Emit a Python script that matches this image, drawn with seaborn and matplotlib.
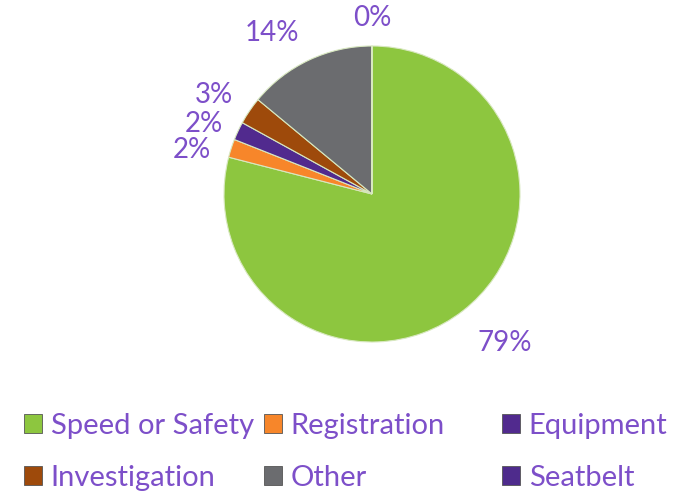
import matplotlib
matplotlib.use('Agg')
import matplotlib.pyplot as plt
import matplotlib.patches as mpatches
import seaborn as sns
import pandas as pd
import numpy as np

# values
categories = ["Speed or Safety", "Registration", "Equipment", "Investigation", "Other", "Seatbelt"]
shares = [79, 2, 2, 3, 14, 0.001]
pct_labels = ["79%", "2%", "2%", "3%", "14%", "0%"]
colors = ["#8DC63F", "#F7862A", "#512A8E", "#9E4A0B", "#6B6C6F", "#4E2B8C"]

df = pd.DataFrame({"category": categories, "share": shares, "label": pct_labels})

sns.set_theme(style="white")
plt.rcParams['font.family'] = ['Lato', 'DejaVu Sans']

text_color = "#7D4FC9"

fig = plt.figure(figsize=(6.8, 4.97), dpi=100)
ax = fig.add_axes([224 / 680, 155 / 497, 296 / 680, 296 / 497])

wedges, _ = ax.pie(df["share"], colors=colors, startangle=90, counterclock=False,
                   radius=1.0, wedgeprops=dict(edgecolor="#d8e8c0", linewidth=0.8))
ax.set_aspect("equal")

# outside-end percentage labels, nudged like the Excel layout
dists = [1.35, 1.25, 1.23, 1.26, 1.28, 1.19]
nudge = [4, 4.2, 2.6, 2, 6.6, 0]
for w, lab, d, n in zip(wedges, df["label"], dists, nudge):
    ang = np.deg2rad((w.theta1 + w.theta2) / 2 + n)
    ax.text(d * np.cos(ang), d * np.sin(ang), lab, ha="center", va="center",
            fontsize=20, color=text_color)

ax.set_xlim(-1, 1)
ax.set_ylim(-1, 1)
ax.axis("off")

handles = [mpatches.Patch(facecolor=c, edgecolor="#555555", linewidth=0.6) for c in colors]
columns = [[0, 3], [1, 4], [2, 5]]
col_x = [24, 264, 502]
for idx, x in zip(columns, col_x):
    leg = fig.legend([handles[i] for i in idx], [categories[i] for i in idx],
                     loc="upper left", bbox_to_anchor=(x / 680, 1 - 413 / 497),
                     frameon=False, fontsize=21, labelcolor=text_color,
                     handlelength=0.62, handleheight=0.62, handletextpad=0.29,
                     labelspacing=0.88, borderpad=0, borderaxespad=0)

fig.savefig("out.png", dpi=100)
